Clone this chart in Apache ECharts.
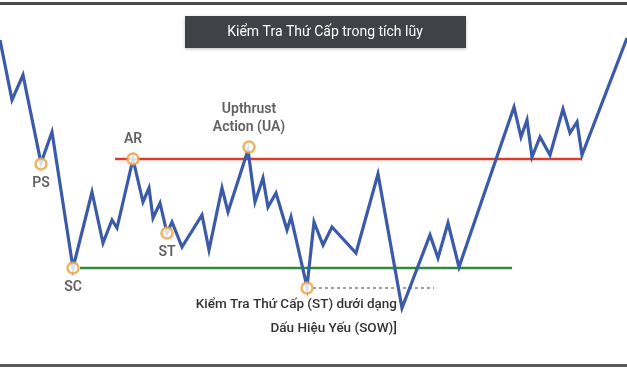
<!DOCTYPE html>
<html>
<head>
<meta charset="utf-8">
<script src="https://cdn.jsdelivr.net/npm/echarts@6/dist/echarts.min.js"></script>
<style>html,body{margin:0;padding:0;background:#fff}#c{width:627px;height:371px}</style>
</head>
<body>
<div id="c"></div>
<script>
// Price path (time, price)
var times  = [0,12,23,41,52,73,92,103,112,117,133,143,149,153,160,167,172,182,202,209,222,228,248,255,263,268,276,287,291,307,314,323,332,356,378,402,430,438,448,459,514,521,527,532,540,550,563,570,577,582,627];
var prices = [331,271,296,208,239,103,179,128,151,143,212,169,183,153,168,138,149,124,156,121,183,159,221,169,193,164,178,141,154,84,149,126,144,118,197,63,136,113,148,104,264,234,251,214,234,216,262,238,249,216,333];

// Levels
var resistance = 212, resistanceFrom = 115, resistanceTo = 582;
var support = 103, supportFrom = 80, supportTo = 512;
var sowLevel = 83, sowFrom = 313, sowTo = 434;

// Event markers
var eventNames  = ['PS','SC','AR','ST','Upthrust\nAction (UA)','ST2'];
var eventTimes  = [41,73,133,167,249,307];
var eventPrices = [207,103,212,138,224,83];
var eventLabelPos = ['bottom','bottom','top','bottom','top','none'];

var title = 'Kiểm Tra Thứ Cấp trong tích lũy';
var noteLines = ['Kiểm Tra Thứ Cấp (ST) dưới dạng','Dấu Hiệu Yếu (SOW)]'];

var chart = echarts.init(document.getElementById('c'));
var lineData = times.map(function(t,i){return [t, prices[i]];});
var eventData = eventNames.map(function(n,i){
  return {
    value:[eventTimes[i], eventPrices[i]], name:n,
    label:{show: eventLabelPos[i] !== 'none', position: eventLabelPos[i] === 'none' ? 'bottom' : eventLabelPos[i], formatter: n, distance: eventLabelPos[i]==='top' ? 4 : 4}
  };
});
var font = 'Roboto, "Noto Sans", sans-serif';

chart.setOption({
  animation:false,
  backgroundColor:'#ffffff',
  grid:{left:0,right:0,top:0,bottom:0},
  xAxis:{type:'value',min:0,max:627,show:false},
  yAxis:{type:'value',min:0,max:371,show:false},
  graphic:[
    {type:'rect',shape:{x:0,y:2,width:627,height:3},style:{fill:'#4a4a4a'},z:100},
    {type:'rect',shape:{x:0,y:364,width:627,height:3},style:{fill:'#5a5a5a'},z:100},
    {type:'rect',shape:{x:185,y:16,width:281,height:32},style:{fill:'#3f4246',shadowBlur:3,shadowColor:'rgba(0,0,0,0.25)',shadowOffsetY:1},z:100},
    {type:'text',x:325,y:32,style:{text:title,fill:'#ffffff',font:'14px '+font,textAlign:'center',textVerticalAlign:'middle'},z:101},
    {type:'text',x:397,y:305,style:{text:noteLines[0],fill:'#333333',font:'500 13.5px '+font,textAlign:'right',textVerticalAlign:'middle'},z:101},
    {type:'text',x:397,y:329,style:{text:noteLines[1],fill:'#333333',font:'500 13.5px '+font,textAlign:'right',textVerticalAlign:'middle'},z:101}
  ],
  series:[
    {type:'line',data:[[resistanceFrom,resistance],[resistanceTo,resistance]],symbol:'none',lineStyle:{color:'#e2392f',width:2.5},z:2,silent:true},
    {type:'line',data:[[supportFrom,support],[supportTo,support]],symbol:'none',lineStyle:{color:'#2f8a3f',width:2.5},z:2,silent:true},
    {type:'line',data:[[sowFrom,sowLevel],[sowTo,sowLevel]],symbol:'none',lineStyle:{color:'#444',width:1,type:[3,3]},z:2,silent:true},
    {type:'line',data:lineData,symbol:'none',clip:true,lineStyle:{color:'#3b5ba9',width:3.2,join:'miter'},z:3},
    {type:'scatter',data:eventData,symbol:'circle',symbolSize:11,
     itemStyle:{color:'#ffffff',borderColor:'#e9a23b',borderWidth:2.5},
     label:{color:'#383838',fontSize:14,fontWeight:600,fontFamily:'Roboto, "Noto Sans", sans-serif',lineHeight:18,align:'center'},
     z:5}
  ]
});
</script>
</body>
</html>
